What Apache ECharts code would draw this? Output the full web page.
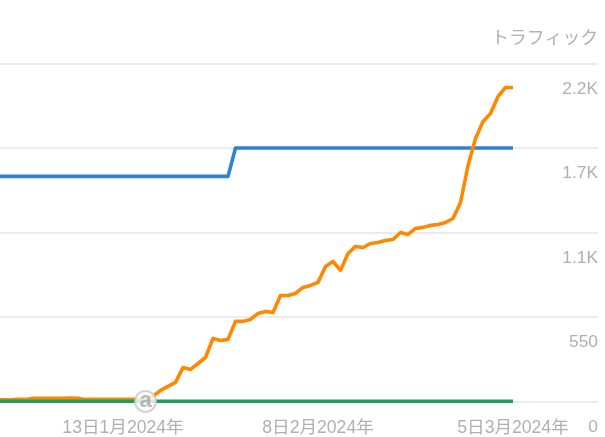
<!DOCTYPE html>
<html><head><meta charset="utf-8">
<style>html,body{margin:0;padding:0;background:#fff}#c{width:605px;height:437px}</style>
<script src="https://cdn.jsdelivr.net/npm/echarts@6/dist/echarts.min.js"></script>
</head><body><div id="c"></div>
<script>
const firstDay = '2023-12-27';
const orangeValues = [10,10,10,13,13,20,20,20,20,21,22,20,13,13,13,13,13,13,13,13,13,33,72,98,124,221,208,247,286,410,397,404,521,521,534,573,586,579,690,690,703,742,755,775,879,911,853,963,1009,1002,1028,1035,1048,1054,1100,1087,1126,1133,1146,1152,1165,1191,1295,1536,1712,1823,1875,1985,2044,2044];
const blueValues = [1465,1465,1465,1465,1465,1465,1465,1465,1465,1465,1465,1465,1465,1465,1465,1465,1465,1465,1465,1465,1465,1465,1465,1465,1465,1465,1465,1465,1465,1465,1465,1465,1650,1650,1650,1650,1650,1650,1650,1650,1650,1650,1650,1650,1650,1650,1650,1650,1650,1650,1650,1650,1650,1650,1650,1650,1650,1650,1650,1650,1650,1650,1650,1650,1650,1650,1650,1650,1650,1650];
const greenValues = [0,0,0,0,0,0,0,0,0,0,0,0,0,0,0,0,0,0,0,0,0,0,0,0,0,0,0,0,0,0,0,0,0,0,0,0,0,0,0,0,0,0,0,0,0,0,0,0,0,0,0,0,0,0,0,0,0,0,0,0,0,0,0,0,0,0,0,0,0,0];
const xTickDates = ['2024-01-13','2024-02-08','2024-03-05'];
const xTickLabels = ['13日1月2024年','8日2月2024年','5日3月2024年'];
const yTicks = [0,550,1100,1650,2200];
const yTickLabels = ['0','550','1.1K','1.7K','2.2K'];
const annotation = {date:'2024-01-16', value:0, label:'a'};
const yTitle = 'トラフィック';

const DAY = 86400000, t = s => Date.parse(s + 'T00:00:00Z');
const dates = orangeValues.map((_, i) => t(firstDay) + i * DAY);
const pairs = vals => vals.map((v, i) => [dates[i], v]);
const xTicks = xTickDates.map(t);
const font = '"Liberation Sans","Noto Sans CJK JP",sans-serif';
const line = (vals, color, z) => ({type:'line', data:pairs(vals), showSymbol:false, z, animation:false,
  lineStyle:{color, width:3.6, cap:'butt', join:'round'}, itemStyle:{color}});

echarts.init(document.getElementById('c')).setOption({
  animation:false, backgroundColor:'#fff',
  grid:{left:0, right:7, top:63.5, height:338, containLabel:false},
  xAxis:{type:'value', scale:true, min:t('2024-03-05')-68.4*DAY, max:t('2024-03-05')+11.33*DAY,
    axisLine:{show:false}, axisTick:{show:false}, splitLine:{show:false}, minorTick:{show:false},
    axisLabel:{customValues:xTicks, showMinLabel:true, showMaxLabel:true, hideOverlap:false, margin:18, color:'#b0b0b0', fontSize:17.6, fontFamily:font,
      formatter:v => xTickLabels[xTicks.indexOf(v)] ?? ''}},
  yAxis:{type:'value', position:'right', min:0, max:2200, interval:550,
    name:yTitle, nameLocation:'end', nameGap:16, nameTextStyle:{align:'right', color:'#b0b0b0', fontSize:17.8, fontFamily:font},
    axisLine:{show:false}, axisTick:{show:false},
    splitLine:{show:true, lineStyle:{color:'#ececec', width:2}},
    axisLabel:{inside:true, margin:0, verticalAlign:'top', padding:[17,0,0,0], color:'#b0b0b0', fontSize:17.4, fontFamily:font,
      formatter:v => yTickLabels[yTicks.indexOf(v)]}},
  series:[
    line(blueValues,'#2f82d2',2),
    line(orangeValues,'#ff8800',3),
    line(greenValues,'#1f9d60',4),
    {type:'scatter', z:5, animation:false, silent:true, data:[[t(annotation.date), annotation.value]], symbol:'circle', symbolSize:21,
     itemStyle:{color:'#fff', borderColor:'#c8c8c8', borderWidth:2},
     label:{show:true, position:'inside', formatter:annotation.label, color:'#a8a8a8', fontSize:22, fontWeight:'bold', fontFamily:font}}
  ]
});
</script></body></html>
